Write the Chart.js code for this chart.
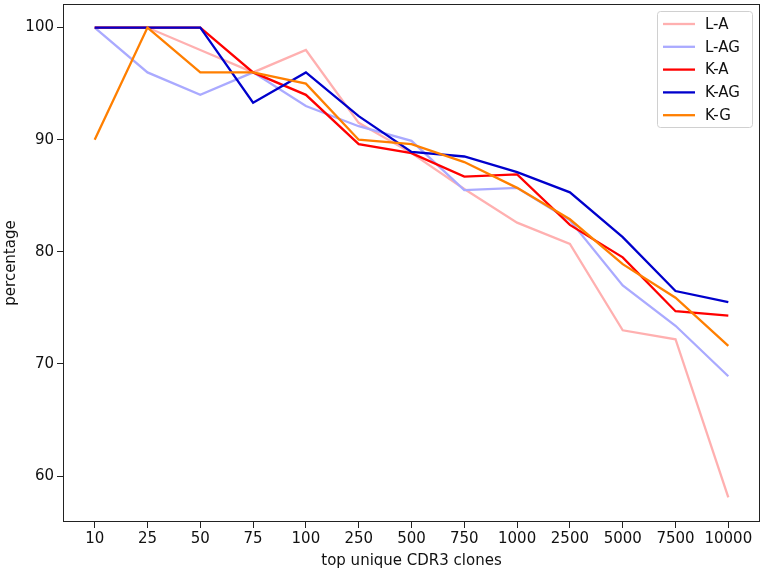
<!DOCTYPE html>
<html>
<head>
<meta charset="utf-8">
<script src="https://cdn.jsdelivr.net/npm/chart.js@4.4.0/dist/chart.umd.min.js"></script>
<style>
  body { margin: 0; background: #fff; }
</style>
</head>
<body>
<canvas id="chart" width="764" height="573"></canvas>
<script>
const categories = ['10', '25', '50', '75', '100', '250', '500', '750', '1000', '2500', '5000', '7500', '10000']
const seriesNames = ['L-A', 'L-AG', 'K-A', 'K-AG', 'K-G']
const lA = [100, 100, 98, 96, 98, 91.5, 88.8, 85.6, 82.6, 80.7, 73.0, 72.2, 58.1]
const lAG = [100, 96, 94, 96, 93, 91.2, 89.9, 85.5, 85.7, 82.8, 77.0, 73.4, 68.9]
const kA = [100, 100, 100, 96, 94, 89.6, 88.8, 86.7, 86.9, 82.4, 79.5, 74.7, 74.3]
const kAG = [100, 100, 100, 93.3, 96, 92.1, 88.9, 88.5, 87.1, 85.3, 81.3, 76.5, 75.5]
const kG = [90, 100, 96, 96, 95, 90.0, 89.6, 88.0, 85.7, 82.9, 78.9, 75.9, 71.6]
const colors = ['#ffb0b0', '#aaaaff', '#ff0000', '#0000cc', '#ff7f00']
const yTicks = [60, 70, 80, 90, 100]

const font = { family: 'DejaVu Sans', size: 15 }
const allSeries = [lA, lAG, kA, kAG, kG]

// plot frame + legend box drawn by hand (matplotlib style)
const framePlugin = {
  id: 'frame',
  afterDraw(chart) {
    const { ctx, chartArea: a } = chart
    ctx.save()
    ctx.strokeStyle = '#222'
    ctx.lineWidth = 1
    ctx.strokeRect(a.left + 0.5, a.top + 0.5, a.right - a.left - 1, a.bottom - a.top - 1)

    // legend
    const bx = 657, by = 11, bw = 95, bh = 116
    ctx.fillStyle = 'rgba(255,255,255,0.8)'
    ctx.strokeStyle = '#d0d0d0'
    ctx.beginPath()
    ctx.roundRect(bx + 0.5, by + 0.5, bw, bh, 3)
    ctx.fill()
    ctx.stroke()
    ctx.font = '15px "DejaVu Sans"'
    ctx.textBaseline = 'middle'
    ctx.fillStyle = '#111'
    chart.data.datasets.forEach((ds, i) => {
      const y = 24 + i * 22.8
      ctx.strokeStyle = ds.borderColor
      ctx.lineWidth = 2.3
      ctx.beginPath()
      ctx.moveTo(663, y)
      ctx.lineTo(695, y)
      ctx.stroke()
      ctx.fillText(ds.label, 705, y + 1)
    })
    ctx.restore()
  }
}

new Chart(document.getElementById('chart'), {
  type: 'line',
  data: {
    datasets: allSeries.map((vals, i) => ({
      label: seriesNames[i],
      data: vals.map((v, j) => ({ x: j, y: v })),
      borderColor: colors[i],
      backgroundColor: colors[i],
      borderWidth: 2.3,
      pointRadius: 0,
      tension: 0,
      fill: false,
      order: allSeries.length - i   // later series drawn on top
    }))
  },
  options: {
    responsive: false,
    animation: false,
    devicePixelRatio: 1,
    layout: { padding: { top: 4, right: 4, left: 0, bottom: 0 } },
    plugins: { legend: { display: false }, tooltip: { enabled: false } },
    scales: {
      x: {
        type: 'linear',
        min: -0.6,
        max: 12.6,
        afterBuildTicks: s => { s.ticks = categories.map((c, i) => ({ value: i })) },
        afterFit: s => { s.height = 51; s.paddingLeft = 0; s.paddingRight = 0 },
        ticks: {
          color: '#111', font, padding: 2, maxRotation: 0, autoSkip: false,
          callback: v => categories[v]
        },
        grid: { drawOnChartArea: false, drawTicks: true, tickLength: 6, color: '#222' },
        border: { display: false },
        title: { display: true, text: 'top unique CDR3 clones', color: '#111', font, padding: { top: 0, bottom: 3 } }
      },
      y: {
        min: 55.9,
        max: 102.1,
        afterBuildTicks: s => { s.ticks = yTicks.map(v => ({ value: v })) },
        afterFit: s => { s.width = 63; s.paddingTop = 0; s.paddingBottom = 0 },
        ticks: { color: '#111', font, padding: 3 },
        grid: { drawOnChartArea: false, drawTicks: true, tickLength: 6, color: '#222' },
        border: { display: false },
        title: { display: true, text: 'percentage', color: '#111', font, padding: { top: 2, bottom: 0 } }
      }
    }
  },
  plugins: [framePlugin]
})
</script>
</body>
</html>
